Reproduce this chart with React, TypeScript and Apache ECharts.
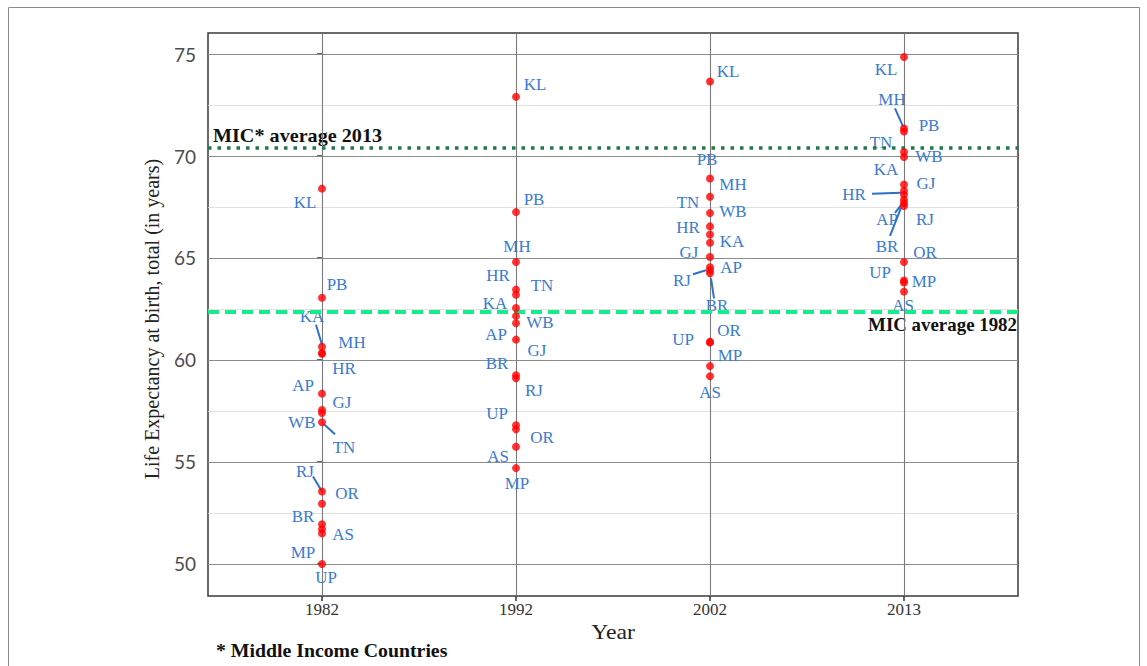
import React, { useEffect, useRef } from 'react';
import * as echarts from 'echarts';

// ---------- data ----------
const years = ['1982', '1992', '2002', '2013'];
const states = ['KL', 'PB', 'KA', 'MH', 'HR', 'AP', 'GJ', 'WB', 'TN', 'RJ', 'OR', 'BR', 'AS', 'MP', 'UP'];
//                KL     PB     KA     MH     HR     AP     GJ     WB     TN     RJ     OR     BR     AS     MP     UP
const le1982 = [68.4, 63.05, 60.65, 60.35, 60.3, 58.35, 57.55, 57.4, 56.95, 53.55, 52.95, 51.95, 51.7, 51.5, 50.0];
const le1992 = [72.9, 67.25, 62.55, 64.8, 63.45, 61.8, 61.0, 62.15, 63.2, 59.1, 56.6, 59.25, 55.75, 54.7, 56.8];
const le2002 = [73.65, 68.9, 65.75, 68.0, 66.15, 64.55, 65.05, 66.55, 67.2, 64.4, 60.9, 64.25, 59.2, 59.7, 60.85];
const le2013 = [74.85, 71.2, 68.6, 71.35, 68.1, 67.7, 68.3, 69.95, 70.2, 67.85, 64.8, 67.55, 63.35, 63.8, 63.9];
const lifeExpectancy = [le1982, le1992, le2002, le2013];

const yMajorTicks = [50, 55, 60, 65, 70, 75];
const yMinorTicks = [52.5, 57.5, 62.5, 67.5, 72.5];
const xTicks = [0, 1, 2, 3];
const micAverage2013 = 70.4;
const micAverage1982 = 62.35;

// ---------- label layout (pixel offsets from each point, repel-style) ----------
const labelOffsets: Record<string, number[][]> = {
  '1982': [[-17, 14], [15, -13], [-10, -30], [30, -10], [22, 15], [-19, -8], [20, -7], [-20, 10], [22, 25], [-17, -20], [25, -10], [-19, -8], [21, 5], [-19, 19], [4, 14]],
  '1992': [[19, -12], [18, -12], [-21, -4], [1, -15], [-18, -14], [-20, 11], [21, 11], [24, 7], [26, -9], [18, 12], [26, 8], [-19, -12], [-18, 10], [1, 16], [-19, -12]],
  '2002': [[18, -10], [-3, -19], [22, -1], [23, -12], [-22, -7], [21, 0], [-21, -4], [23, -15], [-22, -10], [-28, 10], [19, -11], [7, 32], [0, 16], [20, -10], [-27, -3]],
  '2013': [[-18, 13], [25, -6], [-18, -15], [-12, -29], [-50, 0], [-17, 17], [22, -7], [25, 0], [-23, -9], [21, 20], [21, -9], [-17, 41], [-1, 14], [20, -1], [-24, -8]],
};
// segment [x1, y1, x2, y2] offsets from the point
const leaderLines: Record<string, Record<string, number[]>> = {
  '1982': { KA: [-6, -22, 0, -2], TN: [2, 2, 13, 12], RJ: [-9, -15, 0, 0] },
  '1992': {},
  '2002': { RJ: [-17, 4, -4, 0], BR: [1, 5, 4, 25] },
  '2013': { MH: [-9, -20, -1, -2], HR: [-32, -1, -3, -2], AP: [-9, 10, -2, 1], BR: [-14, 30, -3, 2] },
};

const LABEL_BLUE = '#3a7bd0';
const LINE_BLUE = '#2f6fc4';
const SERIF = '"Liberation Serif", "Times New Roman", serif';

export default function App() {
  const ref = useRef<HTMLDivElement>(null);

  useEffect(() => {
    if (!ref.current) return;
    const chart = echarts.init(ref.current, null, { renderer: 'svg' });

    const points: number[][] = [];
    lifeExpectancy.forEach((arr, yi) => arr.forEach((v, si) => points.push([yi, v, si])));

    const option: any = {
      animation: false,
      backgroundColor: '#ffffff',
      grid: {
        left: 208,
        top: 33,
        width: 810,
        height: 563,
        show: true,
        backgroundColor: '#ffffff',
        borderColor: '#3a3a3a',
        borderWidth: 1.5,
        containLabel: false,
        outerBoundsMode: 'none',
      },
      xAxis: {
        type: 'value',
        min: -0.5876,
        max: 3.5876,
        splitLine: { show: false },
        axisLine: { show: false },
        axisTick: { show: true, length: 5, lineStyle: { color: '#333', width: 1.5 }, customValues: xTicks },
        axisLabel: {
          customValues: xTicks,
          formatter: (v: number) => (Number.isInteger(v) && years[v] ? years[v] : ''),
          margin: 5,
          color: '#333333',
          fontFamily: SERIF,
          fontSize: 17,
        },
      },
      yAxis: {
        type: 'value',
        min: 48.43,
        max: 76.03,
        splitLine: { show: false },
        axisLine: { show: false },
        axisTick: { show: true, length: 5, lineStyle: { color: '#333', width: 1.5 }, customValues: yMajorTicks },
        axisLabel: {
          customValues: yMajorTicks,
          formatter: (v: number) => (yMajorTicks.includes(v) ? String(v) : ''),
          margin: 12,
          color: '#4d4d4d',
          fontFamily: 'Lato, "Open Sans", sans-serif',
          fontSize: 19,
        },
      },
      series: [
        {
          name: 'grid',
          type: 'scatter',
          data: [],
          silent: true,
          markLine: {
            silent: true,
            z: 1,
            symbol: ['none', 'none'],
            label: { show: false },
            animation: false,
            data: [
              ...yMinorTicks.map((v) => ({ yAxis: v, lineStyle: { color: '#d9d9d9', width: 0.8, type: 'solid' } })),
              ...yMajorTicks.map((v) => ({ yAxis: v, lineStyle: { color: '#8c8c8c', width: 1, type: 'solid' } })),
              ...xTicks.map((v) => ({ xAxis: v, lineStyle: { color: '#7a7a7a', width: 1.1, type: 'solid' } })),
            ],
          },
        },
        {
          name: 'labels',
          type: 'custom',
          z: 3,
          data: points,
          encode: { x: 0, y: 1 },
          silent: true,
          renderItem: (params: any, api: any) => {
            const yi = api.value(0) as number;
            const si = api.value(2) as number;
            const p = api.coord([yi, api.value(1)]);
            const off = labelOffsets[years[yi]][si];
            const children: any[] = [];
            const ll = leaderLines[years[yi]][states[si]];
            if (ll) {
              children.push({
                type: 'line',
                shape: { x1: p[0] + ll[0], y1: p[1] + ll[1], x2: p[0] + ll[2], y2: p[1] + ll[3] },
                style: { stroke: LINE_BLUE, lineWidth: 2 },
              });
            }
            children.push({
              type: 'text',
              x: p[0] + off[0],
              y: p[1] + off[1],
              scaleX: 1.06,
              style: {
                text: states[si],
                fill: LABEL_BLUE,
                font: `16px ${SERIF}`,
                align: 'center',
                verticalAlign: 'middle',
                textAlign: 'center',
                textVerticalAlign: 'middle',
              },
            });
            return { type: 'group', children };
          },
        },
        {
          name: 'MIC averages',
          type: 'scatter',
          data: [],
          silent: true,
          markLine: {
            silent: true,
            z: 4,
            symbol: ['none', 'none'],
            label: { show: false },
            animation: false,
            data: [
              { yAxis: micAverage2013, lineStyle: { color: '#23784a', width: 3.5, type: [3.5, 6], cap: 'butt' } },
              { yAxis: micAverage1982, lineStyle: { color: '#17ec8c', width: 4, type: [11, 6], cap: 'butt' } },
            ],
          },
        },
        {
          name: 'Life expectancy',
          type: 'scatter',
          z: 6,
          data: points,
          encode: { x: 0, y: 1 },
          symbol: 'circle',
          symbolSize: 8,
          itemStyle: { color: '#ff0000' },
          silent: true,
        },
      ],
      graphic: [
        {
          type: 'rect',
          silent: true,
          shape: { x: 8.5, y: 7.5, width: 1131, height: 680 },
          style: { fill: 'none', stroke: '#8a8a8a', lineWidth: 1 },
        },
        {
          type: 'text',
          x: 152,
          y: 319,
          rotation: Math.PI / 2,
          style: {
            text: 'Life Expectancy at birth, total (in years)',
            font: `20px ${SERIF}`,
            fill: '#222',
            align: 'center',
            verticalAlign: 'middle',
            textAlign: 'center',
            textVerticalAlign: 'middle',
          },
        },
        {
          type: 'text',
          x: 613,
          y: 632,
          scaleX: 1.08,
          style: {
            text: 'Year',
            font: `22px ${SERIF}`,
            fill: '#222',
            align: 'center',
            verticalAlign: 'middle',
            textAlign: 'center',
            textVerticalAlign: 'middle',
          },
        },
        {
          type: 'text',
          x: 213,
          y: 136,
          scaleX: 1.12,
          style: {
            text: 'MIC* average 2013',
            font: `bold 18px ${SERIF}`,
            fill: '#111',
            align: 'left',
            verticalAlign: 'middle',
            textAlign: 'left',
            textVerticalAlign: 'middle',
          },
        },
        {
          type: 'text',
          x: 1017,
          y: 325,
          scaleX: 1.05,
          style: {
            text: 'MIC average 1982',
            font: `bold 18px ${SERIF}`,
            fill: '#111',
            align: 'right',
            verticalAlign: 'middle',
            textAlign: 'right',
            textVerticalAlign: 'middle',
          },
        },
        {
          type: 'text',
          x: 216,
          y: 651,
          scaleX: 1.1,
          style: {
            text: '* Middle Income Countries',
            font: `bold 18px ${SERIF}`,
            fill: '#111',
            align: 'left',
            verticalAlign: 'middle',
            textAlign: 'left',
            textVerticalAlign: 'middle',
          },
        },
      ],
    };

    chart.setOption(option);
    return () => chart.dispose();
  }, []);

  return (
    <div
      ref={ref}
      style={{ position: 'fixed', left: 0, top: 0, width: 1147, height: 666, background: '#ffffff' }}
    />
  );
}
